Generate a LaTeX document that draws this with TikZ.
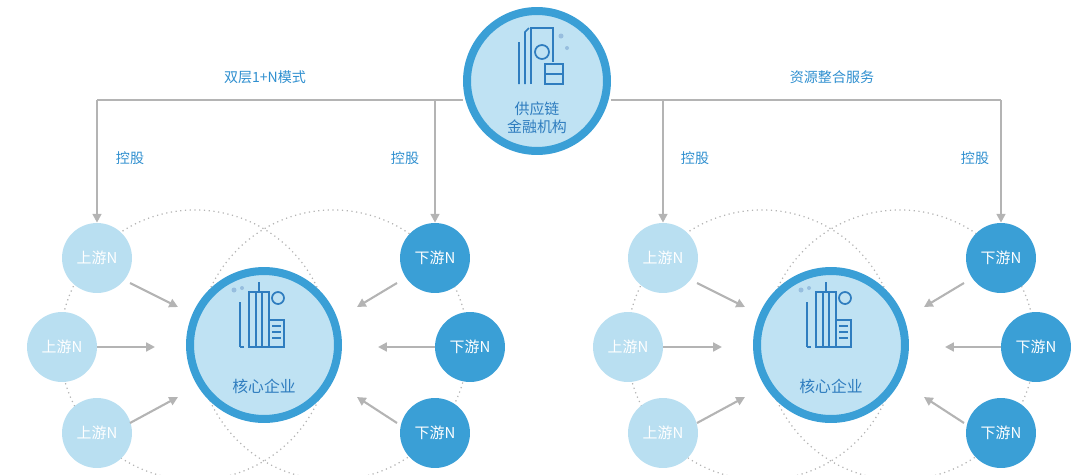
\documentclass[tikz,border=0pt]{standalone}
\usepackage{fontspec}
\setmainfont{Noto Sans CJK SC}
\usetikzlibrary{arrows.meta}
\definecolor{ringblue}{HTML}{3A9FD6}
\definecolor{paleblue}{HTML}{BFE2F3}
\definecolor{upblue}{HTML}{B9DFF1}
\definecolor{downblue}{HTML}{3A9FD6}
\definecolor{iconblue}{HTML}{2F7DBF}
\definecolor{txtblue}{HTML}{2F8FCF}
\definecolor{linegray}{HTML}{B4B4B4}
\tikzset{
  big/.style={circle,draw=ringblue,line width=0.16cm,fill=paleblue,inner sep=0pt},
  up/.style={circle,fill=upblue,minimum size=1.4cm,inner sep=0pt,text=white,font=\fontsize{8.5}{10}\selectfont},
  down/.style={circle,fill=downblue,minimum size=1.4cm,inner sep=0pt,text=white,font=\fontsize{8.5}{10}\selectfont},
  lbl/.style={text=txtblue,font=\fontsize{8}{10}\selectfont},
  feed/.style={draw=linegray,line width=1.2pt,-{Triangle[length=5pt,width=5pt]}},
  orbit/.style={draw=linegray,dotted,line width=0.7pt},
  icon/.style={draw=iconblue,line width=1pt}
}
\newcommand{\building}[1]{%
  \begin{scope}[shift={#1}]
    \draw[icon] (-24,-30)--(-24,15);
    \draw[icon] (-15,-40)--(-15,15)--(5,15)--(5,-40)--cycle;
    \draw[icon] (-8,-40)--(-8,15) (-2,-40)--(-2,15) (-5,-40)--(-5,-50);
    \draw[icon] (5,-12)--(20,-12)--(20,15)--(5,15);
    \foreach \yy in {-6,0,6} \draw[icon] (8,\yy)--(17,\yy);
    \draw[icon] (-20,15)--(-24,15);
    \draw[icon] (14,-34) circle (6);
    \fill[iconblue!50] (-30,-42) circle (2.5) (-22,-44) circle (2);
  \end{scope}}
\begin{document}
\begin{tikzpicture}[x=0.02cm,y=-0.02cm]
\useasboundingbox (0,0) rectangle (1080,474);
\begin{scope}
  \clip (0,0) rectangle (1080,474);
  \foreach \cx in {195,333,762,900}
    \draw[orbit] (\cx,345) circle (135);
\end{scope}

% top node
\node[big,minimum size=2.8cm] (fin) at (537,81) {};
\begin{scope}[shift={(537,56)}]
  \draw[icon] (-18,28)--(-18,-14) (-12,28)--(-12,-24)--(-8,-28);
  \draw[icon] (-6,28)--(-6,-28)--(16,-28)--(16,6);
  \draw[icon] (5,-4) circle (7);
  \draw[icon] (8,8)--(26,8)--(26,28)--(8,28)--cycle (8,18)--(26,18);
  \fill[iconblue!50] (24,-20) circle (2.5) (30,-8) circle (2);
\end{scope}
\node[lbl,text=iconblue,font=\fontsize{8.5}{10.5}\selectfont,align=center] (fintxt) at (537,118) {供应链\\金融机构};

% left group
\node[big,minimum size=2.96cm] (coreL) at (264,345) {};
\building{(264,332)}
\node[lbl,text=iconblue,font=\fontsize{9}{11}\selectfont] (coreLtxt) at (264,386) {核心企业};
\node[up] (uL1) at (97,258) {上游N};
\node[up] (uL2) at (62,347) {上游N};
\node[up] (uL3) at (97,433) {上游N};
\node[down] (dL1) at (435,258) {下游N};
\node[down] (dL2) at (470,347) {下游N};
\node[down] (dL3) at (435,433) {下游N};
\coordinate (aL1) at (178,307); \coordinate (aL2) at (155,347); \coordinate (aL3) at (178,397);
\coordinate (bL1) at (357,307); \coordinate (bL2) at (378,347); \coordinate (bL3) at (357,397);
\draw[feed] (130,283)--(aL1);
\draw[feed] (uL2)--(aL2);
\draw[feed] (130,423)--(aL3);
\draw[feed] (397,283)--(bL1);
\draw[feed] (dL2)--(bL2);
\draw[feed] (397,423)--(bL3);

% right group
\node[big,minimum size=2.96cm] (coreR) at (831,345) {};
\building{(831,332)}
\node[lbl,text=iconblue,font=\fontsize{9}{11}\selectfont] (coreRtxt) at (831,386) {核心企业};
\node[up] (uR1) at (663,258) {上游N};
\node[up] (uR2) at (628,347) {上游N};
\node[up] (uR3) at (663,433) {上游N};
\node[down] (dR1) at (1001,258) {下游N};
\node[down] (dR2) at (1036,347) {下游N};
\node[down] (dR3) at (1001,433) {下游N};
\coordinate (aR1) at (745,307); \coordinate (aR2) at (722,347); \coordinate (aR3) at (745,397);
\coordinate (bR1) at (924,307); \coordinate (bR2) at (945,347); \coordinate (bR3) at (924,397);
\draw[feed] (697,283)--(aR1);
\draw[feed] (uR2)--(aR2);
\draw[feed] (697,423)--(aR3);
\draw[feed] (964,283)--(bR1);
\draw[feed] (dR2)--(bR2);
\draw[feed] (964,423)--(bR3);

% holding lines
\draw[linegray,line width=1.2pt] (fin.west|-0,100)--(97,100);
\draw[linegray,line width=1.2pt] (fin.east|-0,100)--(1001,100);
\draw[feed] (97,100)--(uL1);
\draw[feed] (435,100)--(dL1);
\draw[feed] (663,100)--(uR1);
\draw[feed] (1001,100)--(dR1);
\node[lbl] (modeL) at (265,77) {双层1+N模式};
\node[lbl] (modeR) at (832,77) {资源整合服务};
\node[lbl] (h1) at (130,158) {控股};
\node[lbl] (h2) at (405,158) {控股};
\node[lbl] (h3) at (695,158) {控股};
\node[lbl] (h4) at (975,158) {控股};
\end{tikzpicture}
\end{document}
